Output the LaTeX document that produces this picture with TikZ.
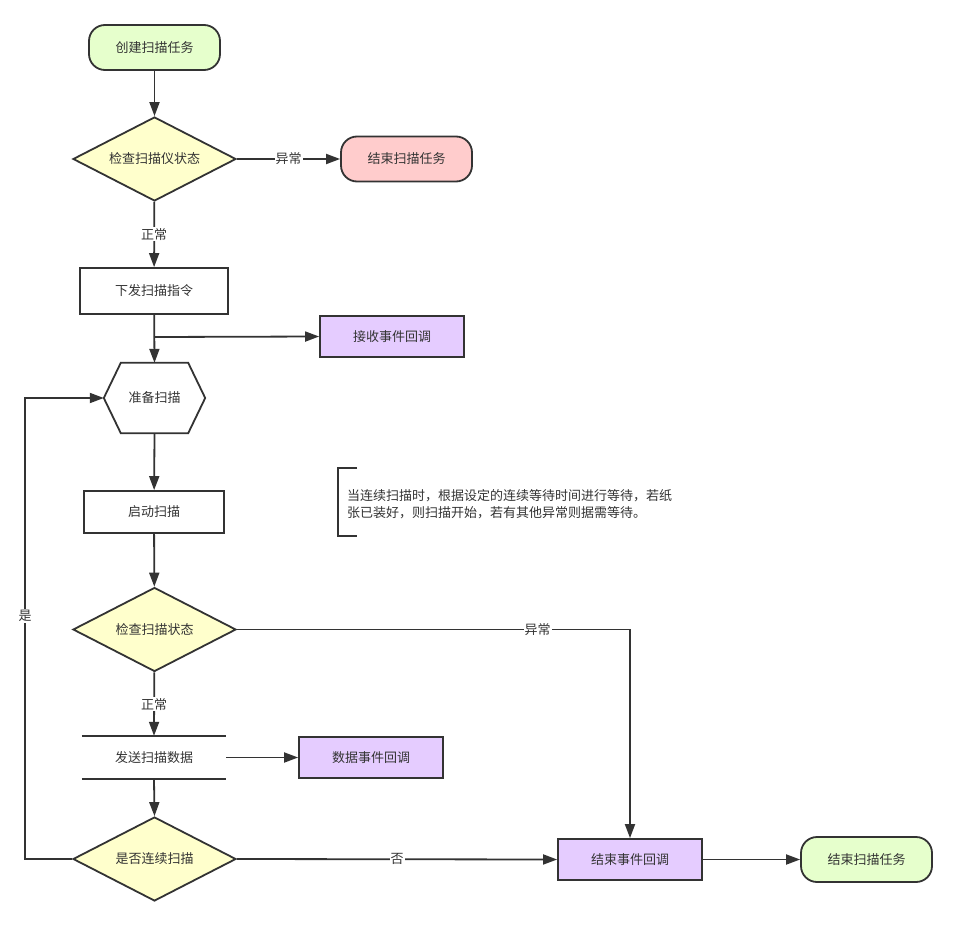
\documentclass[tikz,border=0pt]{standalone}
\usepackage{fontspec}
\setmainfont{Noto Sans CJK SC}
\usetikzlibrary{shapes.geometric,arrows.meta}
\definecolor{ln}{HTML}{333333}
\definecolor{grn}{HTML}{E6FFCC}
\definecolor{yel}{HTML}{FFFFCC}
\definecolor{red}{HTML}{FFCCCC}
\definecolor{pur}{HTML}{E5CCFF}
\begin{document}
\begin{tikzpicture}[x=1pt,y=-1pt,
  every node/.style={font=\fontsize{13}{17}\selectfont, text=ln},
  base/.style={draw=ln, line width=1.8pt, inner sep=0pt},
  term/.style={base, rounded corners=16pt, minimum width=131pt, minimum height=45pt},
  dec/.style={base, diamond, aspect=1.94, minimum width=163pt, minimum height=84pt, fill=yel},
  proc/.style={base, rectangle},
  arr/.style={draw=ln, line width=1.8pt, -{Triangle[length=14pt,width=10pt]}},
  seg/.style={draw=ln, line width=1.8pt},
  lbl/.style={fill=white, inner sep=1pt}
]
\useasboundingbox (0,0) rectangle (956,926);
\fill[white] (0,0) rectangle (956,926);

\node[term, fill=grn] (start) at (154.5,47.5) {创建扫描任务};
\node[dec] (chk1) at (154.5,159) {检查扫描仪状态};
\node[term, fill=red] (end1) at (406.5,159) {结束扫描任务};
\node[proc, minimum width=148pt, minimum height=46pt] (cmd) at (154,291) {下发扫描指令};
\node[proc, fill=pur, minimum width=144pt, minimum height=41pt] (recv) at (392,336.5) {接收事件回调};
\node[inner sep=0pt, minimum width=101pt, minimum height=70pt] (prep) at (154.5,398) {准备扫描};
\draw[seg, line join=miter] (prep.west) -- ([xshift=17pt]prep.north west) -- ([xshift=-17pt]prep.north east)
  -- (prep.east) -- ([xshift=-17pt]prep.south east) -- ([xshift=17pt]prep.south west) -- cycle;
\node[proc, minimum width=140pt, minimum height=42pt] (go) at (154,512) {启动扫描};
\node[dec] (chk2) at (154.5,629.5) {检查扫描状态};
\node[inner sep=0pt, minimum width=144pt, minimum height=43pt] (send) at (154,757.5) {发送扫描数据};
\draw[seg] (send.north west) -- (send.north east);
\draw[seg] (send.south west) -- (send.south east);
\node[proc, fill=pur, minimum width=144pt, minimum height=41pt] (data) at (371,757.5) {数据事件回调};
\node[dec] (cont) at (154.5,859) {是否连续扫描};
\node[proc, fill=pur, minimum width=144pt, minimum height=41pt] (endcb) at (630,859.5) {结束事件回调};
\node[term, fill=grn] (end2) at (866.5,859.5) {结束扫描任务};

% note
\coordinate (nt) at (357,468);
\coordinate (nb) at (357,536);
\draw[seg] (nt) -- (338,468) -- (338,536) -- (nb);
\node[anchor=west, align=left, inner sep=0pt] (note) at (347,504.5)
  {当连续扫描时，根据设定的连续等待时间进行等待，若纸\\张已装好，则扫描开始，若有其他异常则据需等待。};

% connectors
\draw[arr] (start) -- (chk1);
\draw[arr] (chk1) -- node[lbl] {异常} (end1);
\draw[arr] (chk1) -- node[lbl, pos=0.5] {正常} (cmd);
\draw[arr] (cmd) -- (prep.north);
\coordinate (j) at (154,337);
\draw[arr] (j) -- (recv.west);
\draw[arr] (prep.south) -- (go);
\draw[arr] (go) -- (chk2);
\draw[arr] (chk2.east) -- node[lbl, pos=0.765] {异常} (630,629.5) -- (endcb.north);
\draw[arr] (chk2) -- node[lbl] {正常} (send.north);
\draw[arr] (send.east) -- (data.west);
\draw[arr] (send.south) -- (cont.north);
\draw[arr] (cont.east) -- node[lbl] {否} (endcb.west);
\draw[arr] (cont.west) -- (25,859) -- node[lbl, pos=0.527] {是} (25,398) -- (prep.west);
\draw[arr] (endcb) -- (end2);
\end{tikzpicture}
\end{document}
